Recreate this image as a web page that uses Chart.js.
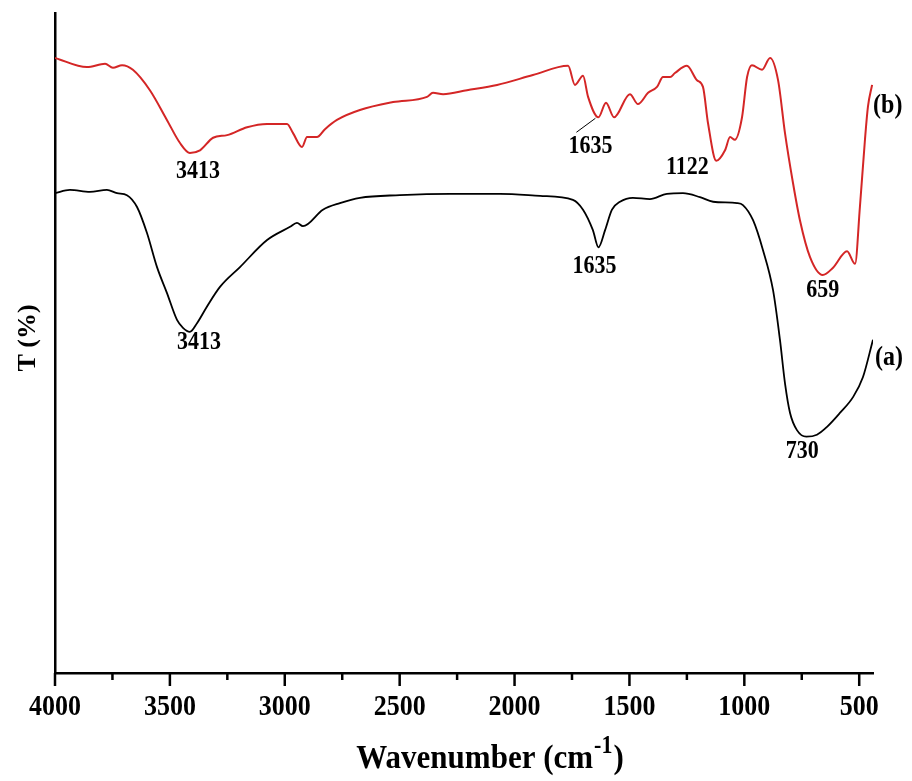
<!DOCTYPE html>
<html>
<head>
<meta charset="utf-8">
<script src="https://cdn.jsdelivr.net/npm/chart.js@4.4.1/dist/chart.umd.min.js"></script>
<style>
  html, body { margin: 0; padding: 0; background: #fff; }
</style>
</head>
<body>
<canvas id="ftir" width="912" height="781"></canvas>
<script>
// spectrum (a): wavenumber in cm-1, transmittance in arbitrary %
const wavenumbersA = [4000, 3935, 3848, 3774, 3730, 3687, 3643, 3600, 3556, 3513, 3469, 3443, 3413, 3382, 3339, 3282,
  3195, 3077, 2977, 2947, 2921, 2834, 2760, 2673, 2499, 2281, 2063, 1889, 1746, 1702, 1659, 1635, 1606, 1576, 1541,
  1485, 1411, 1337, 1267, 1193, 1136, 1032, 1006, 962, 919, 875, 845, 823, 801, 771, 730, 684, 640, 584, 527, 484, 440];
const transA = [72.7, 73.2, 72.9, 73.2, 72.7, 72.4, 70.6, 66.7, 61.5, 57.6, 53.5, 52.3, 51.7, 53.0, 55.5, 58.5,
  61.5, 65.6, 67.6, 68.2, 67.7, 70.2, 71.2, 72.0, 72.4, 72.6, 72.6, 72.3, 71.7, 70.2, 67.1, 64.5, 67.1, 70.2, 71.4,
  72.0, 71.8, 72.6, 72.7, 72.1, 71.4, 71.2, 70.9, 68.6, 64.1, 58.0, 50.5, 43.9, 39.4, 36.8, 35.8, 36.1, 37.3, 39.4, 41.8, 44.8, 50.5];

// spectrum (b)
const wavenumbersB = [4000, 3861, 3782, 3748, 3708, 3661, 3587, 3513, 3456, 3413, 3369, 3312, 3251, 3164, 3077, 2990,
  2964, 2925, 2903, 2860, 2825, 2773, 2673, 2529, 2381, 2355, 2311, 2207, 2076, 1920, 1767, 1737, 1702, 1680, 1635,
  1602, 1567, 1498, 1463, 1419, 1380, 1354, 1323, 1302, 1250, 1206, 1180, 1158, 1122, 1084, 1062, 1041, 1010, 988,
  967, 923, 888, 853, 823, 788, 758, 714, 659, 614, 553, 518, 497, 475, 462, 444];
const transB = [93.2, 91.8, 92.3, 91.7, 92.1, 91.4, 88.3, 83.8, 80.3, 78.8, 79.2, 81.1, 81.5, 82.7, 83.2, 83.2,
  81.8, 79.7, 81.2, 81.2, 82.4, 83.8, 85.3, 86.5, 87.3, 87.9, 87.7, 88.3, 89.1, 90.6, 92.0, 89.1, 90.5, 87.3, 84.2,
  86.4, 84.2, 87.7, 86.2, 87.9, 88.8, 90.3, 90.3, 90.9, 92.0, 89.8, 88.8, 83.3, 77.6, 79.2, 81.2, 80.8, 84.2, 90.3,
  92.1, 91.4, 93.2, 89.8, 81.8, 74.2, 68.6, 63.0, 60.3, 61.4, 63.9, 62.0, 70.6, 80.8, 85.8, 89.1];

// x axis ticks: labelled every 500, minor every 250
const tickValues = [4000, 3750, 3500, 3250, 3000, 2750, 2500, 2250, 2000, 1750, 1500, 1250, 1000, 750, 500];
const tickLabels = ['4000', '', '3500', '', '3000', '', '2500', '', '2000', '', '1500', '', '1000', '', '500'];

// band assignments written next to the minima
const peakSeries = ['b', 'a', 'b', 'a', 'b', 'b', 'a'];
const peakWavenumbers = [3413, 3413, 1635, 1635, 1122, 659, 730];

const SERIF = '"Liberation Serif", "Times New Roman", serif';
const RED = 'rgb(212, 38, 38)';

function points(xs, ys) {
  return xs.map((x, i) => ({x: x, y: ys[i]}));
}

function valueAt(series, wn) {
  const xs = series === 'a' ? wavenumbersA : wavenumbersB;
  const ys = series === 'a' ? transA : transB;
  return ys[xs.indexOf(wn)];
}

// text slightly taller than wide, like the original typesetting
function tallText(ctx, str, x, y, sy) {
  ctx.save();
  ctx.translate(x, y);
  ctx.scale(1, sy);
  ctx.fillText(str, 0, 0);
  ctx.restore();
}

const decorations = {
  id: 'decorations',
  afterDraw(chart) {
    const ctx = chart.ctx;
    const xs = chart.scales.x;
    const ys = chart.scales.y;
    const base = chart.chartArea.bottom;

    ctx.save();
    ctx.fillStyle = '#000';
    ctx.strokeStyle = '#000';

    // ticks and tick labels
    ctx.lineWidth = 2.5;
    ctx.font = 'bold 26px ' + SERIF;
    ctx.textAlign = 'center';
    ctx.textBaseline = 'middle';
    tickValues.forEach((v, i) => {
      const px = xs.getPixelForValue(v);
      const len = tickLabels[i] ? 13 : 7;
      ctx.beginPath();
      ctx.moveTo(px, base);
      ctx.lineTo(px, base + len);
      ctx.stroke();
      if (tickLabels[i]) tallText(ctx, tickLabels[i], px, base + 35, 1.1);
    });

    // x title with superscript
    ctx.textAlign = 'left';
    ctx.textBaseline = 'alphabetic';
    const main = 'Wavenumber (cm';
    ctx.font = 'bold 31px ' + SERIF;
    const wMain = ctx.measureText(main).width;
    const wClose = ctx.measureText(')').width;
    ctx.font = 'bold 22px ' + SERIF;
    const wSup = ctx.measureText('-1').width;
    let tx = 490 - (wMain + wSup + wClose + 2) / 2;
    ctx.font = 'bold 31px ' + SERIF;
    tallText(ctx, main, tx, 768, 1.1);
    ctx.font = 'bold 22px ' + SERIF;
    tallText(ctx, '-1', tx + wMain + 1, 753, 1.1);
    ctx.font = 'bold 31px ' + SERIF;
    tallText(ctx, ')', tx + wMain + wSup + 2, 768, 1.1);

    // y title
    ctx.save();
    ctx.translate(28, 338);
    ctx.rotate(-Math.PI / 2);
    ctx.textAlign = 'center';
    ctx.textBaseline = 'middle';
    ctx.font = 'bold 26px ' + SERIF;
    ctx.fillText('T (%)', 0, 0);
    ctx.restore();

    // peak labels
    ctx.font = 'bold 22px ' + SERIF;
    ctx.textAlign = 'center';
    ctx.textBaseline = 'middle';
    const offsets = [[8, 19], [9, 11], [-8, 29], [-4, 19], [-29, 7], [0, 16], [-4, 15]];
    peakWavenumbers.forEach((wn, i) => {
      const px = xs.getPixelForValue(wn);
      const py = ys.getPixelForValue(valueAt(peakSeries[i], wn));
      tallText(ctx, String(wn), px + offsets[i][0], py + offsets[i][1], 1.1);
      if (i === 2) {
        // leader line for the crowded 1635 band of (b)
        ctx.lineWidth = 1;
        ctx.beginPath();
        ctx.moveTo(px - 3, py + 1);
        ctx.lineTo(px - 22, py + 15);
        ctx.stroke();
      }
    });

    // curve names at the right-hand ends
    ctx.font = 'bold 24px ' + SERIF;
    ctx.textAlign = 'left';
    const endB = transB[transB.length - 1];
    const endA = transA[transA.length - 1];
    tallText(ctx, '(b)', xs.getPixelForValue(wavenumbersB[wavenumbersB.length - 1]) + 1,
      ys.getPixelForValue(endB) + 21, 1.1);
    tallText(ctx, '(a)', xs.getPixelForValue(wavenumbersA[wavenumbersA.length - 1]) + 2,
      ys.getPixelForValue(endA) + 18, 1.1);

    ctx.restore();
  }
};

new Chart(document.getElementById('ftir'), {
  type: 'line',
  data: {
    datasets: [
      {
        label: '(a)',
        data: points(wavenumbersA, transA),
        borderColor: '#000',
        borderWidth: 1.8,
        pointRadius: 0,
        cubicInterpolationMode: 'monotone',
        fill: false
      },
      {
        label: '(b)',
        data: points(wavenumbersB, transB),
        borderColor: RED,
        borderWidth: 2,
        pointRadius: 0,
        cubicInterpolationMode: 'monotone',
        fill: false
      }
    ]
  },
  options: {
    responsive: false,
    animation: false,
    devicePixelRatio: 1,
    layout: {padding: {top: 13, right: 39, left: 0, bottom: 0}},
    plugins: {
      legend: {display: false},
      tooltip: {enabled: false}
    },
    scales: {
      x: {
        type: 'linear',
        reverse: true,
        min: 440,
        max: 4000,
        ticks: {display: false},
        grid: {display: false},
        border: {display: true, color: '#000', width: 2.5},
        afterFit: s => { s.height = 108; }
      },
      y: {
        min: 0,
        max: 100,
        ticks: {display: false},
        grid: {display: false},
        border: {display: true, color: '#000', width: 2.5},
        afterFit: s => { s.width = 55; }
      }
    }
  },
  plugins: [decorations]
});
</script>
</body>
</html>
